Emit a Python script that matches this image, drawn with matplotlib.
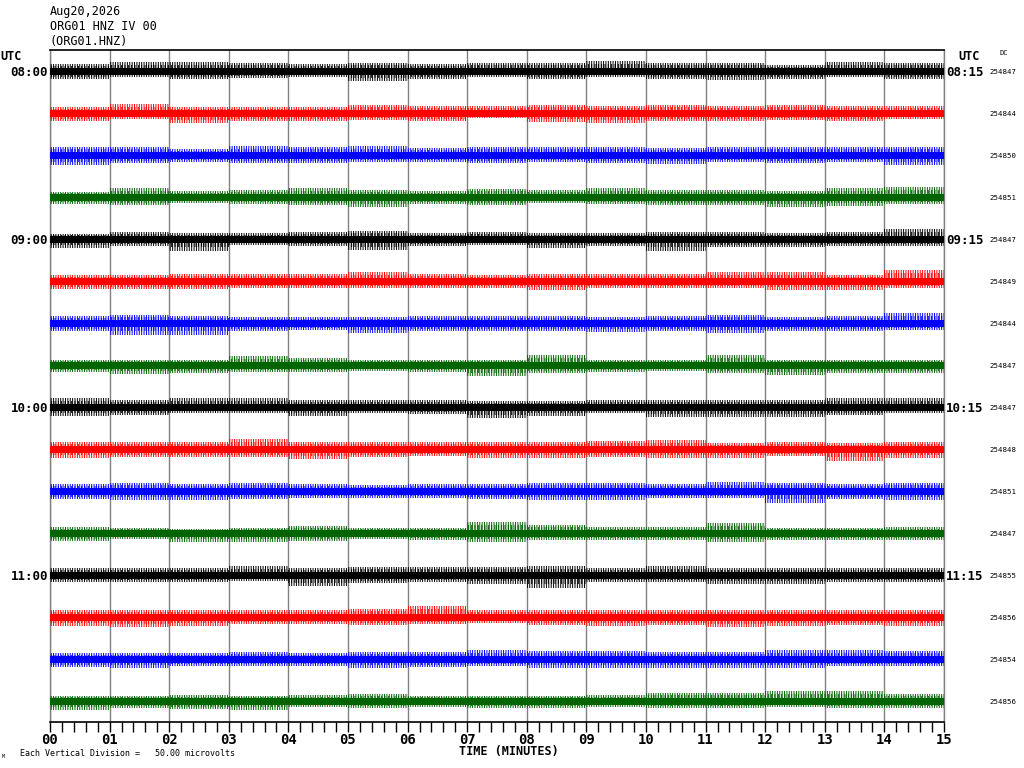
import numpy as np
import matplotlib
matplotlib.use("Agg")
import matplotlib.pyplot as plt
from matplotlib.ticker import MultipleLocator

# ---------------- data ----------------
title_lines = ["Aug20,2026", "ORG01 HNZ IV 00", "(ORG01.HNZ)"]
left_times = ["08:00", "09:00", "10:00", "11:00"]
right_times = ["08:15", "09:15", "10:15", "11:15"]
dc_values = [254847, 254844, 254850, 254851,
             254847, 254849, 254844, 254847,
             254847, 254848, 254851, 254847,
             254855, 254856, 254854, 254856]
trace_colors = ["black", "red", "blue", "#006400"]
minutes = list(range(16))            # minute edges 0..15
tick_labels = ["%02d" % m for m in minutes]
division_uv = 50.0                   # each vertical division = 50 microvolts

# per-minute peak excursions (microvolts), above / below baseline
peak_up = [
    [8,11,11,10,8,10,8,10,10,12,10,10,7,11,10],
    [7,11,7,7,7,10,8,8,10,8,10,8,10,8,8],
    [10,10,7,11,10,11,8,10,10,10,8,10,10,10,10],
    [6,11,7,8,11,8,7,10,8,11,8,8,7,11,12],
    [6,8,7,7,8,10,7,8,7,7,8,8,7,8,12],
    [7,7,8,8,8,11,8,7,8,8,8,11,11,7,13],
    [8,10,8,7,7,7,8,8,8,7,8,10,7,8,12],
    [6,6,6,11,8,6,6,6,12,6,6,12,6,6,6],
    [11,8,11,11,8,8,8,7,7,8,8,8,8,11,11],
    [8,8,8,12,8,8,8,8,8,10,11,7,8,7,8],
    [8,10,8,10,8,7,8,8,10,10,8,11,10,8,10],
    [7,6,5,6,8,6,6,13,10,7,7,12,6,6,7],
    [8,8,8,11,8,10,10,10,11,8,11,8,8,8,8],
    [8,8,8,8,8,10,13,8,8,8,8,8,8,8,8],
    [7,7,7,8,7,8,8,11,10,10,8,8,11,11,10],
    [6,6,7,6,7,8,6,6,6,7,10,10,12,12,8],
]
peak_down = [
    [10,7,10,8,7,12,10,7,10,7,10,11,10,7,10],
    [10,7,12,10,10,8,10,6,11,12,10,10,8,10,7],
    [12,10,8,10,10,8,8,10,8,10,11,8,10,8,12],
    [8,10,7,8,10,12,8,10,7,8,10,10,12,11,8],
    [11,8,14,7,8,13,8,7,11,8,14,10,10,8,8],
    [10,10,10,8,8,8,8,8,11,8,8,8,11,11,8],
    [10,14,14,10,8,12,10,10,10,11,10,12,10,10,8],
    [8,11,10,8,8,7,8,13,10,8,7,10,12,10,10],
    [11,10,7,7,11,7,8,13,11,7,12,12,12,10,7],
    [11,10,10,10,12,10,8,11,11,10,11,11,8,14,11],
    [10,11,11,10,8,8,8,10,11,11,8,8,14,10,11],
    [10,7,11,11,10,7,8,11,8,8,8,11,8,8,8],
    [8,8,8,7,13,10,8,11,15,8,8,11,11,8,8],
    [11,12,11,8,8,10,8,7,10,11,10,12,11,10,11],
    [10,11,8,8,8,11,10,8,11,11,11,11,11,8,8],
    [11,8,10,11,7,8,7,8,8,7,8,8,7,8,8],
]

# ---------------- figure ----------------
W, H = 1024, 768
fig = plt.figure(figsize=(W / 100, H / 100), dpi=100)
plt.rcParams["hatch.linewidth"] = 0.7
mono = "DejaVu Sans Mono"

ax_l, ax_r, ax_t, ax_b = 50, 944, 50, 722
ax = fig.add_axes([ax_l / W, 1 - ax_b / H, (ax_r - ax_l) / W, (ax_b - ax_t) / H])
n = len(dc_values)
ax.set_xlim(0, 15)
ax.set_ylim(0, n * division_uv)

x = np.array(minutes, dtype=float)
core = 4.0
for i in range(n):
    base = (n - 0.5 - i) * division_uv
    col = trace_colors[i % 4]
    up = np.array(peak_up[i] + [peak_up[i][-1]], dtype=float)
    dn = np.array(peak_down[i] + [peak_down[i][-1]], dtype=float)
    ax.fill_between(x, base - dn, base + up, step="post", facecolor="none",
                    edgecolor=col, hatch="|" * 7, linewidth=0, zorder=3)
    ax.fill_between(x, base - 0.7 * dn, base + 0.7 * up, step="post",
                    facecolor="none", edgecolor=col, hatch="|" * 5,
                    linewidth=0, zorder=3)
    ax.fill_between(x, base - np.minimum(dn, core + 1), base + np.minimum(up, core),
                    step="post", facecolor=col, edgecolor="none", zorder=3)

# grid
for m in minutes:
    ax.axvline(m, color="#808080", lw=1.0, zorder=1)
for s in ["top", "bottom"]:
    ax.spines[s].set_color("black")
    ax.spines[s].set_linewidth(1.2)
for s in ["left", "right"]:
    ax.spines[s].set_color("#808080")
    ax.spines[s].set_linewidth(1.0)

ax.set_yticks([])
ax.xaxis.set_major_locator(MultipleLocator(1))
ax.xaxis.set_minor_locator(MultipleLocator(0.2))
ax.set_xticks(minutes)
ax.set_xticklabels(tick_labels, fontfamily=mono, fontweight="bold", fontsize=10)
ax.tick_params(axis="x", which="both", direction="out", length=7, width=1.0,
               color="black", pad=1)

# ---------------- text ----------------
def ftext(px, py, s, **kw):
    fig.text(px / W, 1 - py / H, s, fontfamily=mono, **kw)

for k, s in enumerate(title_lines):
    ftext(50, 12 + 15 * k, s, fontsize=8.5, va="center", ha="left")

ftext(0, 56, "UTC", fontsize=8.5, fontweight="bold", va="center", ha="left")
ftext(958, 56, "UTC", fontsize=8.5, fontweight="bold", va="center", ha="left")
ftext(1000, 53, "DC", fontsize=5, va="center", ha="left")

for i in range(n):
    yc = ax_t + (ax_b - ax_t) * (i + 0.5) / n
    ftext(989, yc + 1, str(dc_values[i]), fontsize=5.3, va="center", ha="left")
    if i % 4 == 0:
        ftext(48, yc + 1, left_times[i // 4], fontsize=9, fontweight="bold",
              va="center", ha="right")
        ftext(946, yc + 1, right_times[i // 4], fontsize=9, fontweight="bold",
              va="center", ha="left")

ftext(509, 752, "TIME (MINUTES)", fontsize=8.5, fontweight="bold", va="center", ha="center")
ftext(20, 754, "Each Vertical Division =   %.2f microvolts" % division_uv,
      fontsize=6, va="center", ha="left")
ftext(2, 757, "M", fontsize=3.5, va="center", ha="left")

fig.savefig("out.png", dpi=100, facecolor="white")
